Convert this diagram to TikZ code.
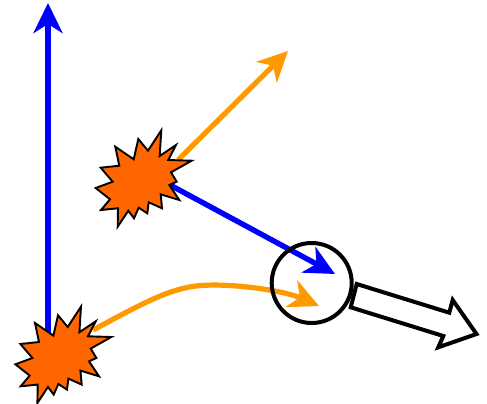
\documentclass[tikz,border=0pt]{standalone}
\usetikzlibrary{arrows.meta}
\definecolor{burstfill}{RGB}{255,102,0}
\definecolor{ray}{RGB}{255,153,0}
\definecolor{bluray}{RGB}{0,0,255}
\tikzset{
  bluearrow/.style={draw=bluray,line width=5.4pt,-{Stealth[length=30pt,width=29pt,inset=9pt]}},
  orangearrow/.style={draw=ray,line width=5.2pt,-{Stealth[length=30pt,width=29pt,inset=9pt]}},
  burst/.style={draw=black,fill=burstfill,line width=1.9pt,line join=miter,miter limit=10},
  ring/.style={draw=black,line width=4pt,fill=none,circle,minimum size=80pt,inner sep=0pt},
  hollow/.style={draw=black,fill=white,line width=4pt,line join=miter,miter limit=10},
}
\newcommand{\burstshape}[1]{%
  \begin{scope}[shift={#1}]
  \draw[burst] (161.3,130.3)--(159.7,156)--(176,145)--(168.3,160)--(191.7,160.7)--(171,172.3)--(176.7,181.7)--(169.3,185)--(179.3,200)--(160.7,194.3)--(162,208.3)--(148.7,202.3)--(147.3,213.3)--(138.7,207.7)--(134,218.3)--(128.3,210.7)--(117.7,226.7)--(118,208.3)--(101,210)--(110,199.3)--(95.7,188)--(112.7,181.7)--(100.7,167.7)--(119.3,165.7)--(115.3,146.7)--(133.7,159.3)--(138.3,139)--(148,150.7)--cycle;
  \end{scope}}
\begin{document}
\begin{tikzpicture}[x=1pt,y=-1pt]
\useasboundingbox (0,0) rectangle (487,404);
\coordinate (b1) at (48,335);
\coordinate (top) at (48,3);
\coordinate (o1) at (93,330);
\coordinate (bend) at (185,288);
\coordinate (o1e) at (319,306);
\coordinate (b2a) at (178,160);
\coordinate (o2e) at (288,51);
\coordinate (b2b) at (170,185);
\coordinate (b2e) at (335,274);
\draw[bluearrow] (b1) -- (top);
\draw[orangearrow] (b2a) -- (o2e);
\draw[bluearrow] (b2b) -- (b2e);
\draw[orangearrow] (o1) .. controls (125,313) and (160,293) .. (bend) .. controls (215,280) and (283,290) .. (o1e);
\burstshape{(0,0)}
\burstshape{(-80.3,176.3)}
\node[ring] (c) at (311.7,283) {};
\draw[hollow] (356.7,284)--(449.3,312.7)--(452.7,300)--(476.5,334)--(438.3,347.3)--(443.3,336)--(350.7,307.3)--cycle;
\end{tikzpicture}
\end{document}
